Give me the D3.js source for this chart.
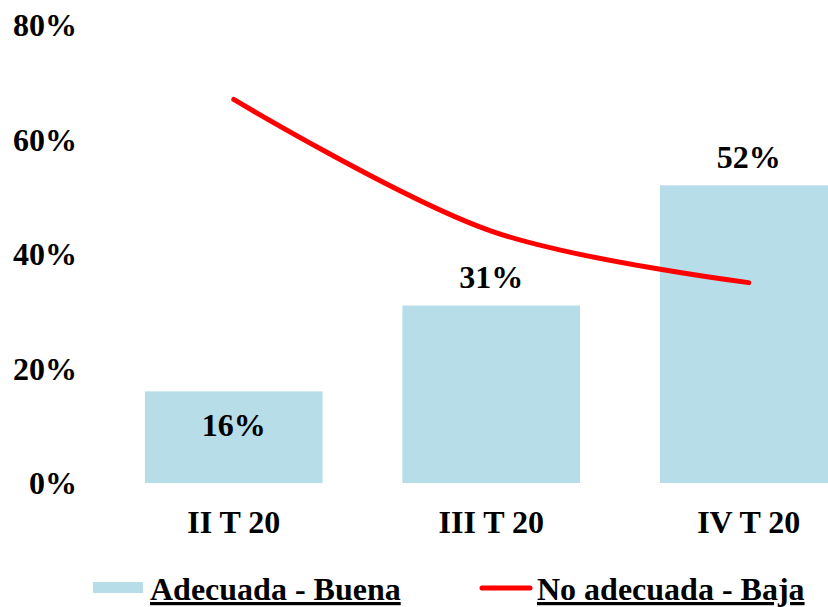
<!DOCTYPE html>
<html>
<head>
<meta charset="utf-8">
<script src="https://cdn.jsdelivr.net/npm/d3@7"></script>
<style>
  body { margin: 0; background: #fff; }
  text { font-family: "Liberation Serif", "Times New Roman", serif; font-weight: bold; }
</style>
</head>
<body>
<div id="chart"></div>
<script>
var categories = ["II T 20", "III T 20", "IV T 20"];
var buena = [16, 31, 52];
var baja = [67, 44, 35];
var yTicks = [0, 20, 40, 60, 80];

var width = 828, height = 607;
var fs = "32px";
var svg = d3.select("#chart").append("svg")
    .attr("width", width)
    .attr("height", height);

var x = d3.scaleBand().domain(categories).range([105, 877.5])
    .paddingInner(0.31).paddingOuter(0.155);
var y = d3.scaleLinear().domain([0, 80]).range([483, 25]);

// y axis labels
svg.append("g").selectAll("text")
    .data(yTicks).enter().append("text")
    .attr("x", 77)
    .attr("y", function(d) { return y(d); })
    .attr("dy", "0.35em")
    .attr("text-anchor", "end")
    .style("font-size", fs)
    .text(function(d) { return d + "%"; });

// bars
svg.append("g").selectAll("rect")
    .data(buena).enter().append("rect")
    .attr("x", function(d, i) { return x(categories[i]); })
    .attr("y", function(d) { return y(d); })
    .attr("width", x.bandwidth())
    .attr("height", function(d) { return y(0) - y(d); })
    .style("fill", "#b7dde8");

// bar labels
svg.append("g").selectAll("text")
    .data(buena).enter().append("text")
    .attr("x", function(d, i) { return x(categories[i]) + x.bandwidth() / 2; })
    .attr("y", function(d) { return d < 20 ? y(d) + 33 : y(d) - 29; })
    .attr("dy", "0.35em")
    .attr("text-anchor", "middle")
    .style("font-size", fs)
    .text(function(d) { return d + "%"; });

// category labels
svg.append("g").selectAll("text")
    .data(categories).enter().append("text")
    .attr("x", function(d) { return x(d) + x.bandwidth() / 2; })
    .attr("y", 533)
    .attr("text-anchor", "middle")
    .style("font-size", fs)
    .text(function(d) { return d; });

// line
var line = d3.line()
    .x(function(d, i) { return x(categories[i]) + x.bandwidth() / 2; })
    .y(function(d) { return y(d); })
    .curve(d3.curveCatmullRom);
svg.append("path")
    .datum(baja)
    .attr("d", line)
    .style("fill", "none")
    .style("stroke", "#ff0000")
    .style("stroke-width", 5)
    .style("stroke-linecap", "round");

// legend
var lg = svg.append("g");
lg.append("rect").attr("x", 93).attr("y", 582).attr("width", 50).attr("height", 11).style("fill", "#b7dde8");
lg.append("text").attr("x", 150).attr("y", 600).style("font-size", fs)
    .style("text-decoration", "underline").text("Adecuada - Buena");
lg.append("line").attr("x1", 482).attr("x2", 530).attr("y1", 588).attr("y2", 588)
    .style("stroke", "#ff0000").style("stroke-width", 5).style("stroke-linecap", "round");
lg.append("text").attr("x", 537).attr("y", 600).style("font-size", fs)
    .style("text-decoration", "underline").text("No adecuada - Baja");
</script>
</body>
</html>
